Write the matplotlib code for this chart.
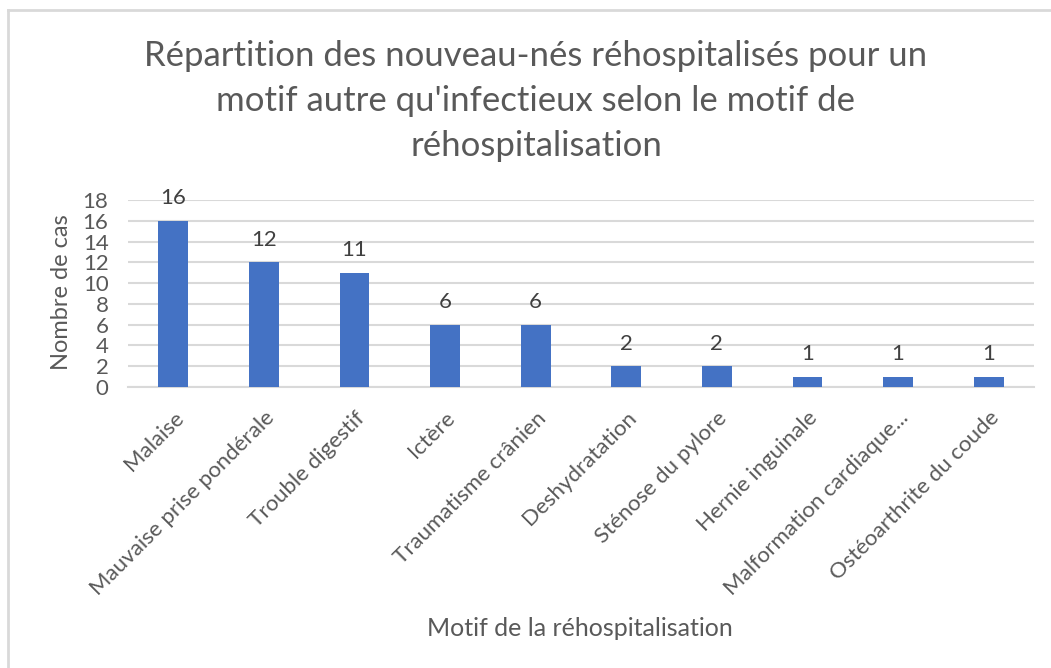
import matplotlib.pyplot as plt
import numpy as np

# Data
categories = ['Malaise', 'Mauvaise prise pondérale', 'Trouble digestif', 'Ictère',
              'Traumatisme crânien', 'Deshydratation', 'Sténose du pylore',
              'Hernie inguinale', 'Malformation cardiaque...', 'Ostéoarthrite du coude']
cases = [16, 12, 11, 6, 6, 2, 2, 1, 1, 1]
yticks = [0, 2, 4, 6, 8, 10, 12, 14, 16, 18]

txt = '#595959'
plt.rcParams['font.family'] = ['Lato', 'DejaVu Sans']

W, H = 1051, 668
fig = plt.figure(figsize=(W / 100, H / 100), dpi=100)
ax = fig.add_axes([128 / W, 1 - 387 / H, (1034 - 128) / W, (387 - 200) / H])

x = np.arange(len(categories))
bars = ax.bar(x, cases, width=0.33, color='#4472C4', zorder=3)
for b, v in zip(bars, cases):
    ax.annotate(str(v), (b.get_x() + b.get_width() / 2, v), xytext=(0, 9),
                textcoords='offset points', ha='center', va='bottom',
                fontsize=16, color='#404040')

ax.set_xlim(-0.5, len(categories) - 0.5)
ax.set_ylim(0, 18)
ax.set_yticks(yticks)
ax.yaxis.grid(True, color='#D9D9D9', linewidth=1.5, zorder=0)
ax.tick_params(axis='y', length=0, labelsize=16, colors=txt, pad=14)
ax.set_xticks(x)
ax.set_xticklabels(categories, rotation=45, ha='right', rotation_mode='anchor')
ax.tick_params(axis='x', length=0, labelsize=16, colors=txt, pad=15)
for s in ['top', 'right', 'left']:
    ax.spines[s].set_visible(False)
ax.spines['bottom'].set_color('#D9D9D9')
ax.spines['bottom'].set_linewidth(1.5)

fig.text(62 / W, 1 - 292 / H, 'Nombre de cas', ha='center', va='center', rotation=90,
         fontsize=17, color=txt)
fig.text(580 / W, 1 - 628 / H, 'Motif de la réhospitalisation', ha='center', va='center',
         fontsize=18, color=txt)

fig.text(536 / W, 1 - 40 / H,
         "Répartition des nouveau-nés réhospitalisés pour un\nmotif autre qu'infectieux selon le motif de\nréhospitalisation",
         ha='center', va='top', fontsize=25, color=txt, linespacing=1.5)

# chart border
fig.add_artist(plt.Line2D([8 / W, 1], [1 - 10 / H, 1 - 10 / H], color='#D9D9D9', linewidth=2))
fig.add_artist(plt.Line2D([8 / W, 8 / W], [0, 1 - 10 / H], color='#D9D9D9', linewidth=2))

fig.savefig('out.png', dpi=100)
